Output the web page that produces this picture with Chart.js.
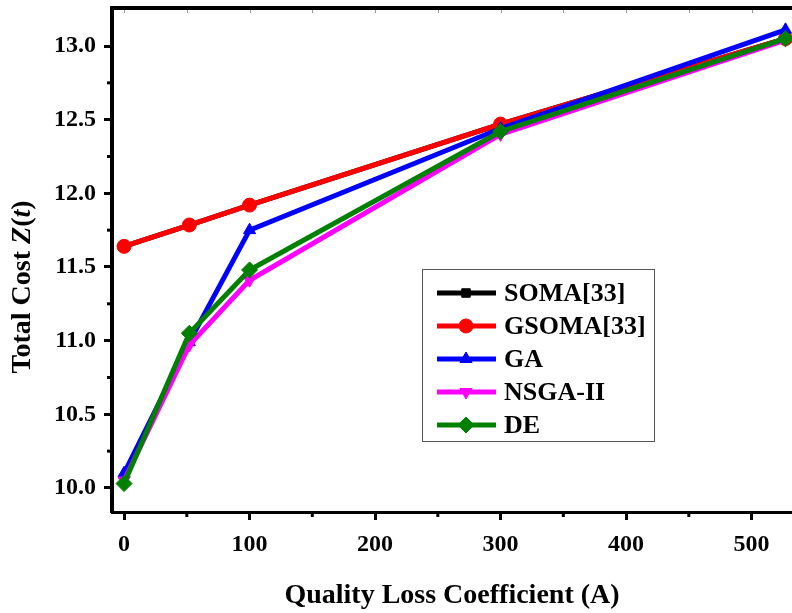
<!DOCTYPE html>
<html lang="en">
<head>
    <meta charset="UTF-8">
    <title>Total Cost vs Quality Loss Coefficient</title>
    <script src="https://cdn.jsdelivr.net/npm/chart.js"></script>
    <style>
        html, body { margin: 0; padding: 0; background: #fff; overflow: hidden; }
        canvas { display: block; }
    </style>
</head>
<body>
    <canvas id="costChart" width="792" height="613"></canvas>

    <script>
        // values
        const xValues = [0, 52, 100, 300, 527];
        const soma   = [11.64, 11.785, 11.92, 12.47, 13.05];
        const gsoma  = [11.64, 11.785, 11.92, 12.47, 13.05];
        const ga     = [10.10, 10.99, 11.75, 12.44, 13.11];
        const nsga2  = [10.05, 10.97, 11.41, 12.40, 13.04];
        const de     = [10.03, 11.05, 11.48, 12.42, 13.05];

        const seriesNames = ['SOMA[33]', 'GSOMA[33]', 'GA', 'NSGA-II', 'DE'];
        const xTicks = [0, 100, 200, 300, 400, 500];
        const xMinorTicks = [50, 150, 250, 350, 450];
        const yTicks = [10.0, 10.5, 11.0, 11.5, 12.0, 12.5, 13.0];
        const yMinorTicks = [10.25, 10.75, 11.25, 11.75, 12.25, 12.75];

        const FONT = '"Liberation Serif", "Times New Roman", serif';

        const styles = [
            { color: '#000000', point: 'rect', rot: 0, r: 6 },
            { color: '#ff0000', point: 'circle', rot: 0, r: 7 },
            { color: '#0000ff', point: 'triangle', rot: 0, r: 7 },
            { color: '#ff00ff', point: 'triangle', rot: 180, r: 7 },
            { color: '#008000', point: 'rectRot', rot: 0, r: 8 }
        ];

        function makeSet(i, values) {
            const s = styles[i];
            return {
                label: seriesNames[i],
                data: xValues.map((x, k) => ({ x: x, y: values[k] })),
                borderColor: s.color,
                backgroundColor: s.color,
                borderWidth: 5,
                pointStyle: s.point,
                pointRotation: s.rot,
                pointRadius: s.r,
                pointBorderWidth: 1,
                order: 5 - i,
                tension: 0,
                clip: false
            };
        }

        // no extra room for edge labels, the plot runs to the canvas edge
        function noPadding(s) {
            s.paddingTop = 0;
            s.paddingBottom = 0;
            s.paddingLeft = 0;
            s.paddingRight = 0;
        }

        // legend box, minor ticks, top frame and y title with italic part
        const extras = {
            id: 'extras',
            afterDraw(chart) {
                const ctx = chart.ctx;
                const xs = chart.scales.x, ys = chart.scales.y;
                const area = chart.chartArea;
                ctx.save();

                // top frame
                ctx.strokeStyle = '#000';
                ctx.lineWidth = 4;
                ctx.beginPath();
                ctx.moveTo(area.left - 2, area.top);
                ctx.lineTo(area.right, area.top);
                ctx.stroke();

                // faint top ticks
                ctx.strokeStyle = '#999';
                ctx.lineWidth = 1;
                xTicks.concat(xMinorTicks).forEach(v => {
                    const px = Math.round(xs.getPixelForValue(v)) + 0.5;
                    ctx.beginPath();
                    ctx.moveTo(px, area.top + 2);
                    ctx.lineTo(px, area.top + 5);
                    ctx.stroke();
                });

                // minor ticks, outward
                ctx.strokeStyle = '#000';
                ctx.lineWidth = 3;
                xMinorTicks.forEach(v => {
                    const px = xs.getPixelForValue(v);
                    ctx.beginPath();
                    ctx.moveTo(px, area.bottom);
                    ctx.lineTo(px, area.bottom + 5);
                    ctx.stroke();
                });
                yMinorTicks.forEach(v => {
                    const py = ys.getPixelForValue(v);
                    ctx.beginPath();
                    ctx.moveTo(area.left, py);
                    ctx.lineTo(area.left - 5, py);
                    ctx.stroke();
                });

                // y title: "Total Cost " + italic "Z(t)"
                const parts = [
                    { t: 'Total Cost ', f: 'bold 28px ' + FONT },
                    { t: 'Z', f: 'italic bold 28px ' + FONT },
                    { t: '(', f: 'bold 28px ' + FONT },
                    { t: 't', f: 'italic bold 28px ' + FONT },
                    { t: ')', f: 'bold 28px ' + FONT }
                ];
                let total = 0;
                parts.forEach(p => { ctx.font = p.f; p.w = ctx.measureText(p.t).width; total += p.w; });
                ctx.translate(23, 287);
                ctx.rotate(-Math.PI / 2);
                ctx.fillStyle = '#000';
                ctx.textBaseline = 'middle';
                ctx.textAlign = 'left';
                let cx = -total / 2;
                parts.forEach(p => { ctx.font = p.f; ctx.fillText(p.t, cx, 0); cx += p.w; });
                ctx.setTransform(1, 0, 0, 1, 0, 0);

                // legend
                ctx.fillStyle = '#fff';
                ctx.fillRect(422, 269, 232, 172);
                ctx.strokeStyle = '#555';
                ctx.lineWidth = 1;
                ctx.strokeRect(422.5, 269.5, 232, 172);
                const rowY = [293, 326, 359, 392, 425];
                ctx.font = 'bold 26px ' + FONT;
                ctx.textBaseline = 'middle';
                seriesNames.forEach((name, i) => {
                    const s = styles[i];
                    const y = rowY[i];
                    ctx.strokeStyle = s.color;
                    ctx.lineWidth = 5;
                    ctx.beginPath();
                    ctx.moveTo(437, y);
                    ctx.lineTo(496, y);
                    ctx.stroke();
                    ctx.fillStyle = s.color;
                    ctx.strokeStyle = s.color;
                    ctx.lineWidth = 1;
                    Chart.helpers.drawPoint(ctx, {
                        pointStyle: s.point, rotation: s.rot, radius: s.r, borderWidth: 1
                    }, 466, y);
                    ctx.fillStyle = '#000';
                    ctx.fillText(name, 504, y + 1);
                });
                ctx.restore();
            }
        };

        const ctx = document.getElementById('costChart').getContext('2d');
        new Chart(ctx, {
            type: 'line',
            data: {
                datasets: [
                    makeSet(0, soma),
                    makeSet(1, gsoma),
                    makeSet(2, ga),
                    makeSet(3, nsga2),
                    makeSet(4, de)
                ]
            },
            options: {
                responsive: false,
                animation: false,
                layout: { autoPadding: false, padding: { top: 8, right: 0, left: 0, bottom: 0 } },
                plugins: {
                    legend: { display: false },
                    tooltip: { enabled: false }
                },
                scales: {
                    x: {
                        type: 'linear',
                        min: -9.6,
                        max: 532.2,
                        afterFit: s => { s.height = 101; noPadding(s); },
                        afterBuildTicks: s => { s.ticks = xTicks.map(v => ({ value: v })); },
                        grid: {
                            drawOnChartArea: false,
                            tickLength: 8,
                            tickWidth: 3,
                            color: '#000'
                        },
                        border: { color: '#000', width: 3 },
                        ticks: {
                            padding: 10,
                            color: '#000',
                            font: { family: FONT, size: 24, weight: 'bold' },
                            callback: v => String(v)
                        },
                        title: {
                            display: true,
                            text: 'Quality Loss Coefficient (A)',
                            color: '#000',
                            font: { family: FONT, size: 28, weight: 'bold' },
                            padding: { top: 18, bottom: 0 }
                        }
                    },
                    y: {
                        type: 'linear',
                        min: 9.837,
                        max: 13.258,
                        afterFit: s => { s.width = 112; noPadding(s); },
                        afterBuildTicks: s => { s.ticks = yTicks.map(v => ({ value: v })); },
                        grid: {
                            drawOnChartArea: false,
                            tickLength: 8,
                            tickWidth: 3,
                            color: '#000'
                        },
                        border: { color: '#000', width: 4 },
                        ticks: {
                            padding: 8,
                            color: '#000',
                            font: { family: FONT, size: 24, weight: 'bold' },
                            callback: v => Number(v).toFixed(1)
                        },
                        title: { display: false }
                    }
                }
            },
            plugins: [extras]
        });
    </script>
</body>
</html>
